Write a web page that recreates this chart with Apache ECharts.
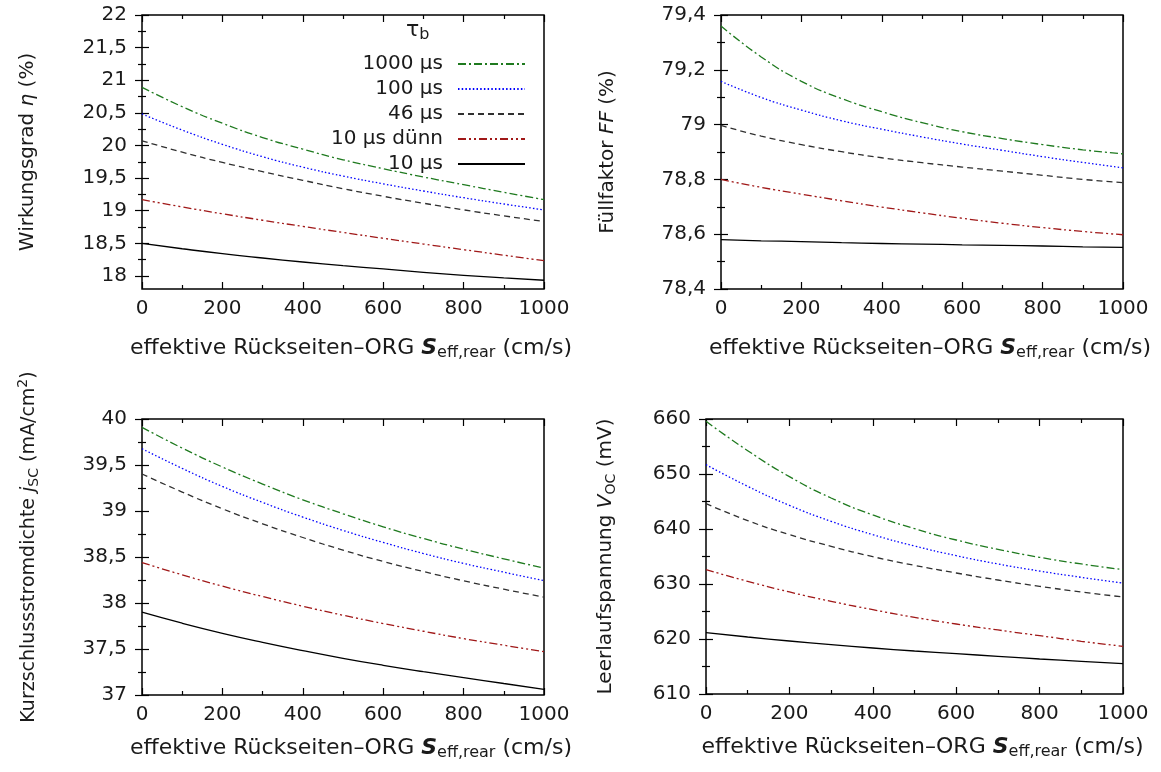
<!DOCTYPE html>
<html><head><meta charset="utf-8">
<script src="https://cdn.jsdelivr.net/npm/echarts@6/dist/echarts.min.js"></script>
<style>html,body{margin:0;padding:0;background:#fff}#c{width:1161px;height:772px}</style>
</head><body><div id="c"></div>
<script>
// ---------- data ----------
const seff = [0, 100, 200, 300, 400, 500, 600, 700, 800, 900, 1000];
const seriesNames = ['1000 µs', '100 µs', '46 µs', '10 µs dünn', '10 µs'];

// Wirkungsgrad eta (%)
const eta_1000 = [20.891, 20.595, 20.341, 20.122, 19.944, 19.781, 19.644, 19.517, 19.399, 19.282, 19.170];
const eta_100  = [20.483, 20.236, 20.018, 19.828, 19.668, 19.532, 19.412, 19.302, 19.199, 19.103, 19.013];
const eta_46   = [20.071, 19.898, 19.740, 19.598, 19.466, 19.338, 19.221, 19.115, 19.013, 18.921, 18.835];
const eta_10d  = [19.170, 19.058, 18.953, 18.854, 18.759, 18.667, 18.577, 18.489, 18.403, 18.318, 18.234];
const eta_10   = [18.499, 18.417, 18.341, 18.275, 18.214, 18.158, 18.107, 18.056, 18.010, 17.969, 17.934];

// Fuellfaktor FF (%)
const ff_1000 = [79.360, 79.247, 79.158, 79.095, 79.047, 79.007, 78.974, 78.949, 78.927, 78.908, 78.893];
const ff_100  = [79.158, 79.099, 79.053, 79.014, 78.983, 78.955, 78.929, 78.906, 78.883, 78.862, 78.842];
const ff_46   = [78.997, 78.958, 78.927, 78.901, 78.879, 78.861, 78.845, 78.830, 78.815, 78.800, 78.788];
const ff_10d  = [78.800, 78.771, 78.746, 78.722, 78.699, 78.678, 78.658, 78.640, 78.624, 78.610, 78.598];
const ff_10   = [78.580, 78.576, 78.573, 78.569, 78.566, 78.564, 78.561, 78.559, 78.557, 78.554, 78.552];

// Kurzschlussstromdichte jSC (mA/cm2)
const jsc_1000 = [39.909, 39.684, 39.478, 39.293, 39.122, 38.970, 38.828, 38.701, 38.585, 38.480, 38.379];
const jsc_100  = [39.677, 39.463, 39.267, 39.093, 38.934, 38.789, 38.658, 38.538, 38.430, 38.335, 38.244];
const jsc_46   = [39.402, 39.206, 39.024, 38.861, 38.712, 38.575, 38.451, 38.342, 38.241, 38.150, 38.063];
const jsc_10d  = [38.440, 38.306, 38.183, 38.070, 37.965, 37.867, 37.777, 37.693, 37.613, 37.541, 37.472];
const jsc_10   = [37.900, 37.780, 37.671, 37.573, 37.483, 37.399, 37.323, 37.254, 37.190, 37.125, 37.062];

// Leerlaufspannung VOC (mV)
const voc_1000 = [659.58, 654.24, 649.52, 645.64, 642.55, 640.06, 638.00, 636.30, 634.85, 633.64, 632.61];
const voc_100  = [651.70, 647.76, 644.30, 641.39, 638.97, 636.91, 635.15, 633.64, 632.36, 631.21, 630.18];
const voc_46   = [644.61, 641.52, 638.97, 636.85, 634.97, 633.39, 632.00, 630.73, 629.58, 628.55, 627.64];
const voc_10d  = [632.61, 630.48, 628.55, 626.85, 625.33, 623.94, 622.73, 621.64, 620.61, 619.58, 618.67];
const voc_10   = [621.15, 620.36, 619.64, 618.97, 618.36, 617.82, 617.33, 616.85, 616.36, 615.94, 615.52];

// tick values
const xTicks = [0, 200, 400, 600, 800, 1000];
const xMinor = [100, 300, 500, 700, 900];
const etaTicks = [18, 18.5, 19, 19.5, 20, 20.5, 21, 21.5, 22];
const etaMinor = [18.25, 18.75, 19.25, 19.75, 20.25, 20.75, 21.25, 21.75];
const ffTicks = [78.4, 78.6, 78.8, 79, 79.2, 79.4];
const ffMinor = [78.5, 78.7, 78.9, 79.1, 79.3];
const jscTicks = [37, 37.5, 38, 38.5, 39, 39.5, 40];
const jscMinor = [37.25, 37.75, 38.25, 38.75, 39.25, 39.75];
const vocTicks = [610, 620, 630, 640, 650, 660];
const vocMinor = [615, 625, 635, 645, 655];

// ---------- styling ----------
const FONT = 'DejaVu Sans';
const TXT = '#1a1a1a';
const colors = ['#1f7a1f', '#0000ff', '#303030', '#a01818', '#000000'];
const dashes = [[8, 3, 2, 3], [1.5, 2.2], [6, 4], [8, 3, 2, 3, 2, 3], 'solid'];

function rich(size) {
  return {
    n: {fontSize: size, fontFamily: FONT, color: TXT},
    i: {fontSize: size, fontFamily: FONT, color: TXT, fontStyle: 'italic'},
    bi: {fontSize: size, fontFamily: FONT, color: TXT, fontStyle: 'italic', fontWeight: 'bold'},
    sub: {fontSize: Math.round(size * 0.72), fontFamily: FONT, color: TXT, padding: [10, 0, 0, 0]},
    sup: {fontSize: Math.round(size * 0.72), fontFamily: FONT, color: TXT, padding: [0, 0, 12, 0]}
  };
}
const fmt = v => String(+(+v).toFixed(3)).replace('.', ',');
const xName = '{n|effektive Rückseiten–ORG }{bi|S}{sub|eff,rear}{n| (cm/s)}';

const panels = [
  {grid: {left: 142, top: 15, width: 402, height: 274}, ymin: 17.8, ymax: 22, ticks: etaTicks, minor: etaMinor,
   yName: '{n|Wirkungsgrad }{i|η}{n| (%)}', yGap: 104, xGap: 46, yFont: 20, yPad: [0, 0, 0, 0],
   data: [eta_1000, eta_100, eta_46, eta_10d, eta_10]},
  {grid: {left: 721, top: 15, width: 402, height: 274}, ymin: 78.4, ymax: 79.4, ticks: ffTicks, minor: ffMinor,
   yName: '{n|Füllfaktor }{i|FF}{n| (%)}', yGap: 103, xGap: 46, yFont: 20, yPad: [0, 0, 0, 0],
   data: [ff_1000, ff_100, ff_46, ff_10d, ff_10]},
  {grid: {left: 142, top: 419, width: 402, height: 276}, ymin: 37, ymax: 40, ticks: jscTicks, minor: jscMinor,
   yName: '{n|Kurzschlussstromdichte }{i|j}{sub|SC}{n| (mA/cm}{sup|2}{n|)}', yGap: 100, xGap: 40, yFont: 19, yPad: [0, 0, 0, 20],
   data: [jsc_1000, jsc_100, jsc_46, jsc_10d, jsc_10]},
  {grid: {left: 706, top: 419, width: 417, height: 275}, ymin: 610, ymax: 660, ticks: vocTicks, minor: vocMinor,
   yName: '{n|Leerlaufspannung }{i|V}{sub|OC}{n| (mV)}', yGap: 88, xGap: 40, yFont: 20, yPad: [0, 0, 0, 0],
   data: [voc_1000, voc_100, voc_46, voc_10d, voc_10]}
];

const grid = [], xAxis = [], yAxis = [], series = [];
const tickLine = {color: '#000', width: 1.2};
panels.forEach((p, i) => {
  grid.push(Object.assign({show: true, borderColor: '#000', borderWidth: 1.5, backgroundColor: 'transparent'}, p.grid));
  const xBase = {gridIndex: i, type: 'value', min: 0, max: 1000, axisLine: {show: false}, splitLine: {show: false}};
  xAxis.push(Object.assign({}, xBase, {
    position: 'bottom',
    axisTick: {show: true, inside: true, length: 7, customValues: xTicks, lineStyle: tickLine},
    axisLabel: {show: true, customValues: xTicks, margin: 10, fontSize: 20, fontFamily: FONT, color: TXT, formatter: fmt},
    name: xName, nameLocation: 'middle', nameGap: p.xGap, nameTextStyle: {rich: rich(22), padding: [0, 0, 0, 16]}
  }));
  xAxis.push(Object.assign({}, xBase, {position: 'bottom',
    axisTick: {show: true, inside: true, length: 4, customValues: xMinor, lineStyle: tickLine}, axisLabel: {show: false}}));
  xAxis.push(Object.assign({}, xBase, {position: 'top',
    axisTick: {show: true, inside: true, length: 7, customValues: xTicks, lineStyle: tickLine}, axisLabel: {show: false}}));
  xAxis.push(Object.assign({}, xBase, {position: 'top',
    axisTick: {show: true, inside: true, length: 4, customValues: xMinor, lineStyle: tickLine}, axisLabel: {show: false}}));

  const yBase = {gridIndex: i, type: 'value', min: p.ymin, max: p.ymax, axisLine: {show: false}, splitLine: {show: false}};
  yAxis.push(Object.assign({}, yBase, {
    position: 'left',
    axisTick: {show: true, inside: true, length: 7, customValues: p.ticks, lineStyle: tickLine},
    axisLabel: {show: true, customValues: p.ticks, margin: 15, fontSize: 20, fontFamily: FONT, color: TXT, formatter: fmt},
    name: p.yName, nameLocation: 'middle', nameGap: p.yGap, nameRotate: 90,
    nameTextStyle: {rich: rich(p.yFont), padding: p.yPad}
  }));
  yAxis.push(Object.assign({}, yBase, {position: 'left',
    axisTick: {show: true, inside: true, length: 4, customValues: p.minor, lineStyle: tickLine}, axisLabel: {show: false}}));
  yAxis.push(Object.assign({}, yBase, {position: 'right',
    axisTick: {show: true, inside: true, length: 7, customValues: p.ticks, lineStyle: tickLine}, axisLabel: {show: false}}));
  yAxis.push(Object.assign({}, yBase, {position: 'right',
    axisTick: {show: true, inside: true, length: 4, customValues: p.minor, lineStyle: tickLine}, axisLabel: {show: false}}));

  p.data.forEach((arr, k) => {
    series.push({
      name: seriesNames[k], type: 'line', xAxisIndex: i * 4, yAxisIndex: i * 4,
      data: seff.map((x, j) => [x, arr[j]]),
      symbol: 'none', smooth: 0.5, silent: true, animation: false,
      lineStyle: {color: colors[k], width: 1.3, type: dashes[k]},
      itemStyle: {color: colors[k]}
    });
  });
});

const chart = echarts.init(document.getElementById('c'), null, {renderer: 'canvas'});
chart.setOption({
  animation: false,
  backgroundColor: '#fff',
  title: {
    text: '{t|τ}{b|b}', left: 406, top: 17, padding: 0,
    textStyle: {fontWeight: 'normal', rich: {
      t: {fontSize: 22, fontFamily: FONT, color: TXT, fontWeight: 'normal'},
      b: {fontSize: 16, fontFamily: FONT, color: TXT, fontWeight: 'normal', padding: [10, 0, 0, 0]}}}
  },
  legend: {
    data: seriesNames, orient: 'vertical', align: 'right', right: 635, top: 54, padding: 0,
    itemWidth: 67, itemHeight: 14, itemGap: 5, selectedMode: false,
    itemStyle: {opacity: 0},
    textStyle: {fontSize: 20, fontFamily: FONT, color: TXT, padding: [0, 10, 0, 0]}
  },
  grid, xAxis, yAxis, series
});
</script>
</body></html>
